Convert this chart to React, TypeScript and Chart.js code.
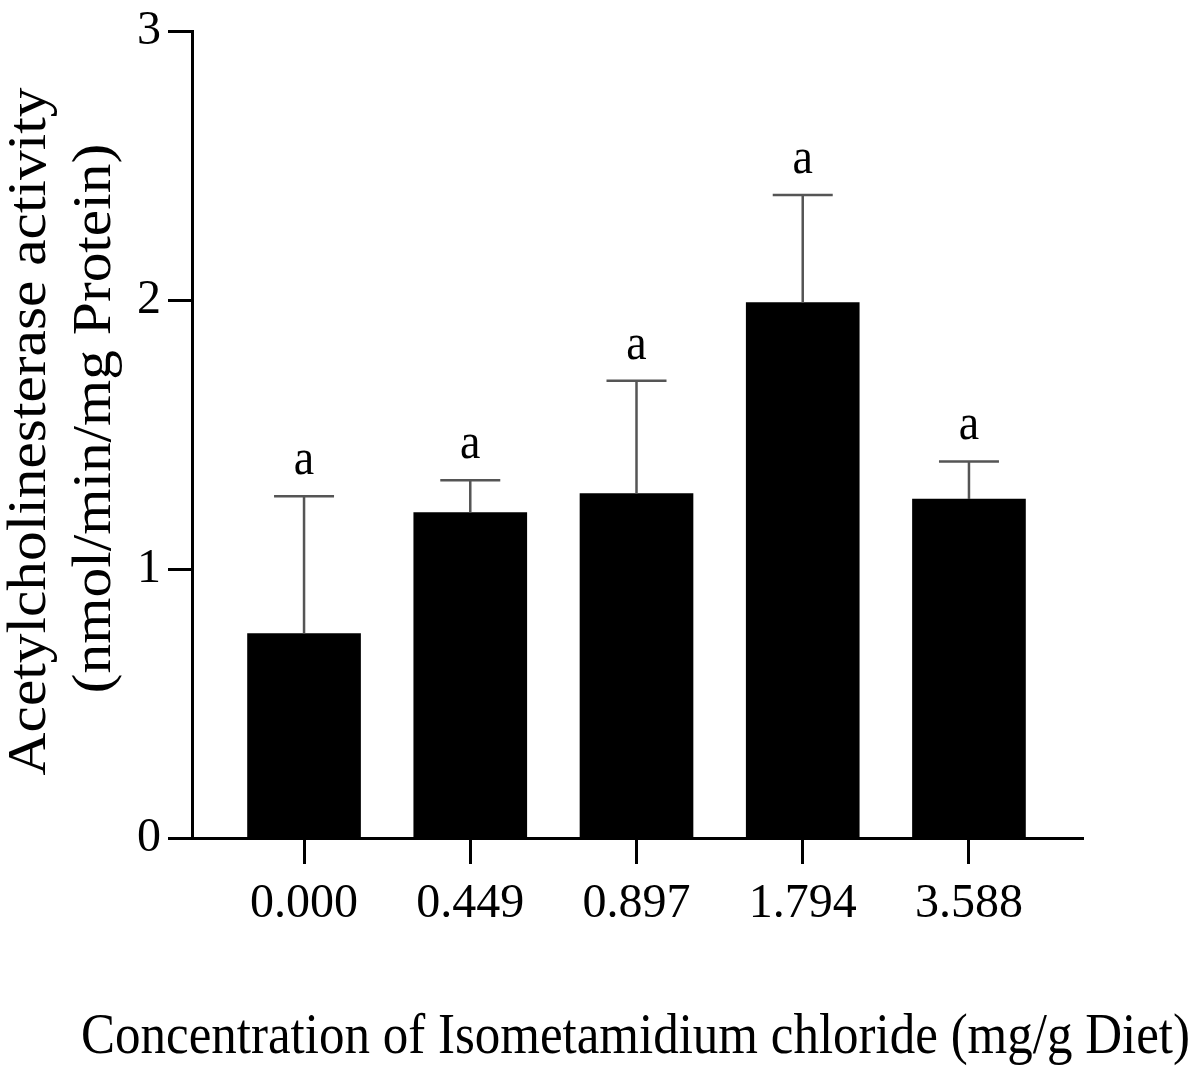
import React, { useEffect, useRef } from "react";
import { Chart, registerables } from "chart.js";

Chart.register(...registerables);

// Isometamidium chloride dose groups (mg/g diet)
const categories = ["0.000", "0.449", "0.897", "1.794", "3.588"];
// Mean acetylcholinesterase activity (nmol/min/mg protein)
const means = [0.76, 1.21, 1.28, 1.99, 1.26];
// Upper error (SD)
const errors = [0.51, 0.12, 0.42, 0.4, 0.14];
// Significance letters
const letters = ["a", "a", "a", "a", "a"];
const yTicks = [0, 1, 2, 3];
const yTitleLines = ["Acetylcholinesterase activity", "(nmol/min/mg Protein)"];
const xTitle = "Concentration of Isometamidium chloride (mg/g Diet)";

const SERIF = "'Liberation Serif', 'Times New Roman', serif";

const errorBarPlugin = {
  id: "errorBars",
  afterDatasetsDraw(chart: any) {
    const { ctx, scales } = chart;
    const xs = scales.x;
    const ys = scales.y;
    ctx.save();
    means.forEach((m, i) => {
      const x = xs.getPixelForValue(i);
      const yTop = ys.getPixelForValue(m);
      const yErr = ys.getPixelForValue(m + errors[i]);
      ctx.strokeStyle = "#555555";
      ctx.lineWidth = 2.5;
      ctx.beginPath();
      ctx.moveTo(x, yTop);
      ctx.lineTo(x, yErr);
      ctx.moveTo(x - 30, yErr);
      ctx.lineTo(x + 30, yErr);
      ctx.stroke();
      ctx.fillStyle = "#000000";
      ctx.font = `46px ${SERIF}`;
      ctx.textAlign = "center";
      ctx.textBaseline = "alphabetic";
      ctx.save();
      ctx.translate(x, yErr - 22);
      ctx.scale(1, 1.1);
      ctx.fillText(letters[i], 0, 0);
      ctx.restore();
    });
    ctx.restore();
  },
};

// Axis titles, drawn slightly stretched along the page's vertical direction
const axisTitlePlugin = {
  id: "axisTitles",
  afterDraw(chart: any) {
    const { ctx, chartArea } = chart;
    const midY = (chartArea.top + chartArea.bottom) / 2;
    const midX = (chartArea.left + chartArea.right) / 2;
    ctx.save();
    ctx.fillStyle = "#000000";
    ctx.textAlign = "center";
    ctx.textBaseline = "alphabetic";

    // y-axis title, two lines, reading bottom to top
    ctx.font = `54px ${SERIF}`;
    const lineBase = [45, 110];
    const lineShift = [-3, -16];
    yTitleLines.forEach((line, i) => {
      ctx.save();
      ctx.translate(lineBase[i], midY + lineShift[i]);
      ctx.rotate(-Math.PI / 2);
      ctx.scale(1.1, 1);
      ctx.fillText(line, 0, 0);
      ctx.restore();
    });

    // x-axis title
    ctx.font = `51px ${SERIF}`;
    ctx.save();
    ctx.translate(midX - 2, chart.height - 15);
    ctx.scale(1, 1.12);
    ctx.fillText(xTitle, 0, 0);
    ctx.restore();
    ctx.restore();
  },
};

export default function App() {
  const canvasRef = useRef<HTMLCanvasElement | null>(null);

  useEffect(() => {
    if (!canvasRef.current) return;
    const chart = new Chart(canvasRef.current, {
      type: "bar",
      data: {
        datasets: [
          {
            data: means.map((v, i) => ({ x: i, y: v })),
            backgroundColor: "#000000",
            borderWidth: 0,
            barThickness: 113,
          },
        ],
      },
      plugins: [errorBarPlugin, axisTitlePlugin],
      options: {
        animation: false,
        responsive: false,
        layout: { padding: { left: 0, right: 118, top: 30, bottom: 0 } },
        plugins: {
          legend: { display: false },
          tooltip: { enabled: false },
        },
        scales: {
          x: {
            type: "linear",
            min: -0.674,
            max: 4.686,
            offset: false,
            afterBuildTicks: (scale: any) => {
              scale.ticks = categories.map((_, i) => ({ value: i }));
            },
            afterFit: (scale: any) => {
              scale.height = 230;
            },
            grid: {
              display: true,
              drawOnChartArea: false,
              drawTicks: true,
              offset: false,
              tickLength: 26,
              tickWidth: 3,
              tickColor: "#000000",
            },
            border: { display: true, color: "#000000", width: 3 },
            ticks: {
              autoSkip: false,
              maxRotation: 0,
              padding: 12,
              color: "#000000",
              font: { family: SERIF, size: 48 },
              callback: (v: any) => categories[v] ?? "",
            },
            title: { display: false },
          },
          y: {
            min: 0,
            max: 3,
            afterBuildTicks: (scale: any) => {
              scale.ticks = yTicks.map((v) => ({ value: v }));
            },
            afterFit: (scale: any) => {
              scale.width = 192;
            },
            grid: {
              display: true,
              drawOnChartArea: false,
              drawTicks: true,
              tickLength: 24,
              tickWidth: 3,
              tickColor: "#000000",
            },
            border: { display: true, color: "#000000", width: 3 },
            ticks: {
              padding: 7,
              color: "#000000",
              font: { family: SERIF, size: 48, lineHeight: 1 },
            },
            title: { display: false },
          },
        },
      },
    });
    return () => chart.destroy();
  }, []);

  return (
    <div style={{ position: "absolute", left: 0, top: 0, width: 1201, height: 1068, background: "#ffffff" }}>
      <canvas ref={canvasRef} width={1201} height={1068} style={{ display: "block" }} />
    </div>
  );
}
